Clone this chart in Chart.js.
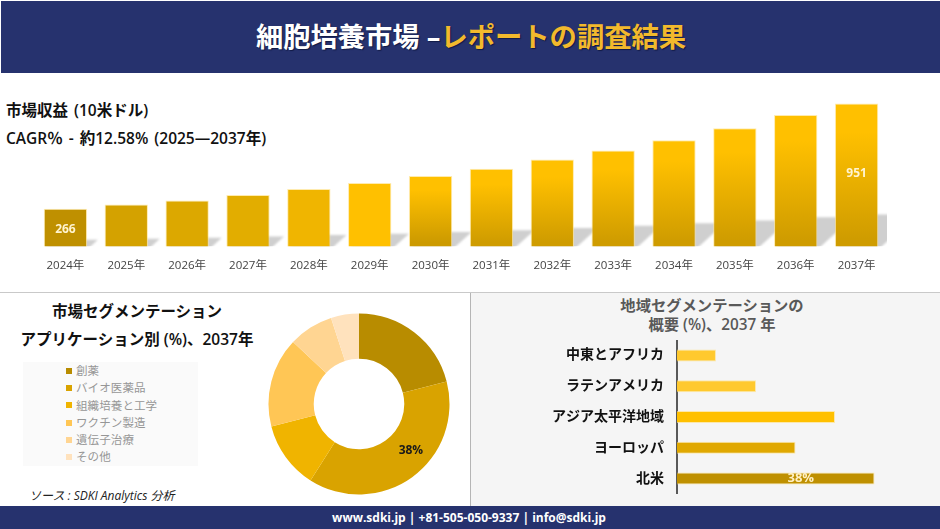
<!DOCTYPE html>
<html lang="ja">
<head>
<meta charset="utf-8">
<title>細胞培養市場</title>
<script src="https://cdn.jsdelivr.net/npm/chart.js@4/dist/chart.umd.min.js"></script>
<style>
  * { box-sizing: border-box; }
  html, body { margin: 0; padding: 0; background: #fff; }
  body {
    position: relative; width: 940px; height: 529px; overflow: hidden;
    font-family: "Open Sans", "Noto Sans CJK JP", sans-serif; color: #111;
  }
  .abs { position: absolute; white-space: nowrap; }
  canvas { position: absolute; display: block; }
  #header { left: 1px; top: 1px; width: 939px; height: 72px; background: #26326e; }
  #title {
    left: 0; width: 942px; top: 17px; text-align: center; font-size: 27.3px; line-height: 40px;
    font-weight: 700; color: #fff; text-shadow: 1px 1px 1px #111a45;
  }
  #title span { color: #f2b92c; }
  .lead { left: 6px; font-size: 15.5px; line-height: 20px; font-weight: 600; word-spacing: 2px; }
  #hline { left: 0; top: 292px; width: 940px; height: 1px; background: #c9c9c9; }
  #rightPanel { left: 470px; top: 293px; width: 470px; height: 213px; background: #f5f5f5; border-left: 1px solid #b5b5b5; }
  .leftTitle { left: 0; width: 274px; text-align: center; font-size: 15.5px; line-height: 20px; font-weight: 600; }
  .rightTitle { left: 471px; width: 482px; text-align: center; font-size: 15.3px; line-height: 19px; font-weight: 600; color: #595959; }
  #legendBox { left: 23px; top: 362px; width: 175px; height: 104px; background: #fafafa; padding: 0 0 0 43px; }
  .legendRow { height: 17.3px; line-height: 17.3px; font-size: 11.5px; color: #969696; letter-spacing: 0.1px; display: flex; align-items: center; }
  .legendRow i { width: 6px; height: 6px; margin-right: 4px; display: block; }
  #source { left: 29px; top: 488px; font-size: 12px; line-height: 16px; font-style: italic; color: #222; }
  #footer {
    left: 0; top: 506px; width: 940px; height: 23px; background: #26326e; color: #fff;
    text-align: center; font-size: 12px; line-height: 24px; font-weight: 700; padding-right: 2px;
  }
</style>
</head>
<body>
<div class="abs" id="header"></div>
<div class="abs" id="title">細胞培養市場 –<span>レポートの調査結果</span></div>
<div class="abs lead" style="top:100px">市場収益 (10米ドル)</div>
<div class="abs lead" style="top:128px">CAGR％ - 約12.58% (2025―2037年)</div>
<div class="abs" id="hline"></div>
<div class="abs" id="rightPanel"></div>
<div class="abs leftTitle" style="top:301px">市場セグメンテーション</div>
<div class="abs leftTitle" style="top:329px">アプリケーション別 (%)、2037年</div>
<div class="abs rightTitle" style="top:296px">地域セグメンテーションの</div>
<div class="abs rightTitle" style="top:315px">概要 (%)、2037 年</div>
<div class="abs" id="legendBox"></div>
<div class="abs" id="source">ソース : SDKI Analytics 分析</div>
<div class="abs" id="footer">www.sdki.jp | +81-505-050-9337 | info@sdki.jp</div>

<canvas id="revenue-chart" width="852" height="183" style="left:35px;top:95px"></canvas>
<canvas id="application-chart" width="200" height="200" style="left:259px;top:304px"></canvas>
<canvas id="region-chart" width="400" height="154" style="left:540px;top:340px"></canvas>

<script>
// Dados
const years = ["2024年", "2025年", "2026年", "2027年", "2028年", "2029年", "2030年", "2031年", "2032年", "2033年", "2034年", "2035年", "2036年", "2037年"]
const revenue = [266, 294, 320, 355, 394, 433, 479, 527, 586, 646, 713, 790, 877, 951]
const barTop = ["#bf9000", "#d4a200", "#dca800", "#e2ad00", "#f0b500", "#ffc000", "#ffc000", "#ffc000", "#ffc000", "#ffc000", "#ffc000", "#ffc000", "#ffc000", "#ffc000"]
const barBottom = ["#bf9000", "#d4a200", "#dca800", "#e2ad00", "#f0b500", "#ffc000", "#cc9a00", "#cf9c00", "#cf9c00", "#cf9c00", "#cf9c00", "#cf9c00", "#cf9c00", "#cf9c00"]

const applications = ["創薬", "バイオ医薬品", "組織培養と工学", "ワクチン製造", "遺伝子治療", "その他"]
const applicationShare = [21, 38, 12, 16, 8, 5]
const applicationColors = ["#b88c00", "#d9a300", "#f0b400", "#ffc655", "#ffd592", "#ffe2bd"]

const regions = ["中東とアフリカ", "ラテンアメリカ", "アジア太平洋地域", "ヨーロッパ", "北米"]
const regionShare = [7.5, 15.2, 30.4, 22.8, 38]
const regionColors = ["#ffc92e", "#ffc92e", "#ffc000", "#e0a800", "#bf9000"]

Chart.defaults.font.family = '"Open Sans", "Noto Sans CJK JP", sans-serif'
Chart.defaults.animation = false

// Legenda em HTML
const legendBox = document.getElementById("legendBox")
applications.forEach((name, i) => {
  const row = document.createElement("div")
  row.className = "legendRow"
  const mark = document.createElement("i")
  mark.style.background = applicationColors[i]
  row.appendChild(mark)
  row.appendChild(document.createTextNode(name))
  legendBox.appendChild(row)
})

// Escreve rótulos por cima das barras / fatias
const valueLabels = {
  id: "valueLabels",
  afterDatasetsDraw(chart, args, opts) {
    const ctx = chart.ctx
    const elements = chart.getDatasetMeta(0).data
    ctx.save()
    ctx.textAlign = "center"
    ctx.textBaseline = "middle"
    opts.items.forEach((item) => {
      const el = elements[item.index]
      const pos = el.tooltipPosition()
      const cy = chart.options.indexAxis === "y" || el.base === undefined ? pos.y : (el.y + el.base) / 2
      const cx = chart.options.indexAxis === "y" ? (el.x + el.base) / 2 : pos.x
      ctx.font = `700 ${opts.size}px "Open Sans", sans-serif`
      ctx.fillStyle = opts.color
      ctx.fillText(item.text, cx + (item.dx || 0), cy + (item.dy || 0))
    })
    ctx.restore()
  },
}

// Sombra projetada atrás das barras
const barShadow = {
  id: "barShadow",
  beforeDatasetsDraw(chart) {
    const ctx = chart.ctx
    const area = chart.chartArea
    ctx.save()
    ctx.beginPath()
    ctx.rect(area.left, area.top, area.right - area.left, area.bottom - area.top)
    ctx.clip()
    ctx.filter = "blur(1px)"
    ctx.fillStyle = "#cfcfcf"
    chart.getDatasetMeta(0).data.forEach((bar) => {
      const left = bar.x - bar.width / 2
      const right = bar.x + bar.width / 2
      const rise = (bar.base - bar.y) * 0.24
      const shift = rise * 1.1
      ctx.beginPath()
      ctx.moveTo(left, bar.base)
      ctx.lineTo(right, bar.base)
      ctx.lineTo(right + shift, bar.base - rise)
      ctx.lineTo(left + shift, bar.base - rise)
      ctx.closePath()
      ctx.fill()
    })
    ctx.restore()
  },
}

// Gráfico de receita
new Chart(document.getElementById("revenue-chart"), {
  type: "bar",
  plugins: [barShadow, valueLabels],
  data: {
    labels: years,
    datasets: [
      {
        data: revenue,
        barPercentage: 0.712,
        categoryPercentage: 1,
        borderWidth: 1,
        borderColor: "rgba(255, 226, 140, 0.7)",
        backgroundColor(c) {
          const chart = c.chart
          if (!chart.chartArea || c.dataIndex === undefined) return barTop[0]
          const y = chart.scales.y
          const top = y.getPixelForValue(revenue[c.dataIndex])
          const g = chart.ctx.createLinearGradient(0, top, 0, y.bottom)
          g.addColorStop(0.2, barTop[c.dataIndex])
          g.addColorStop(0.95, barBottom[c.dataIndex])
          return g
        },
      },
    ],
  },
  options: {
    responsive: false,
    layout: { padding: 0 },
    plugins: {
      legend: { display: false },
      tooltip: { enabled: false },
      valueLabels: {
        size: 12,
        color: "#fff4d0",
        items: [
          { index: 0, text: "266" },
          { index: 13, text: "951", dy: -3 },
        ],
      },
    },
    scales: {
      x: {
        grid: { display: false },
        border: { display: false },
        ticks: { color: "#444", font: { size: 11.5 }, padding: 5, maxRotation: 0, autoSkip: false },
      },
      y: { display: false, min: 22, max: 1007 },
    },
  },
})

// Gráfico de aplicações
new Chart(document.getElementById("application-chart"), {
  type: "doughnut",
  plugins: [valueLabels],
  data: {
    labels: applications,
    datasets: [
      {
        data: applicationShare,
        backgroundColor: applicationColors,
        borderWidth: 0,
      },
    ],
  },
  options: {
    responsive: false,
    cutout: "50%",
    radius: 90.5,
    plugins: {
      legend: { display: false },
      tooltip: { enabled: false },
      valueLabels: {
        size: 12,
        color: "#1a1a1a",
        items: [{ index: 1, text: "38%", dx: 12, dy: -8 }],
      },
    },
  },
})

// Gráfico de regiões
new Chart(document.getElementById("region-chart"), {
  type: "bar",
  plugins: [valueLabels],
  data: {
    labels: regions,
    datasets: [
      {
        data: regionShare,
        backgroundColor: regionColors,
        borderWidth: 1,
        borderColor: "rgba(255, 226, 140, 0.7)",
        barPercentage: 0.39,
        categoryPercentage: 1,
      },
    ],
  },
  options: {
    indexAxis: "y",
    responsive: false,
    layout: { padding: 0 },
    plugins: {
      legend: { display: false },
      tooltip: { enabled: false },
      valueLabels: {
        size: 13,
        color: "#fff0c4",
        items: [{ index: 4, text: "38%", dx: 25 }],
      },
    },
    scales: {
      x: { display: false, min: 0, max: 50.6 },
      y: {
        // sem isto a escala reserva margem em cima e embaixo para os rótulos
        afterFit(scale) {
          scale.width = 137
          scale.paddingTop = 0
          scale.paddingBottom = 0
        },
        grid: { drawOnChartArea: false, drawTicks: false },
        border: { display: true, color: "#595959", width: 2 },
        ticks: { color: "#111", font: { size: 14, weight: "600" }, padding: 13 },
      },
    },
  },
})
</script>
</body>
</html>
